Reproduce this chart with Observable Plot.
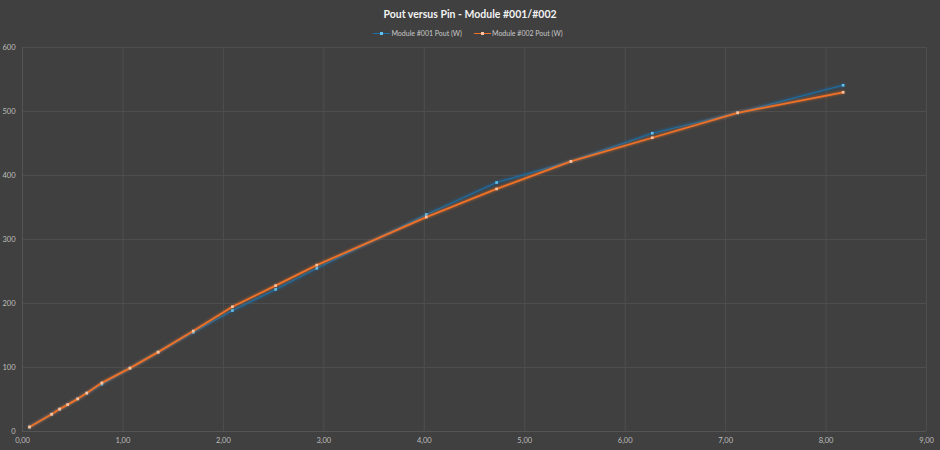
<!DOCTYPE html>
<html><head><meta charset="utf-8">
<script src="https://cdn.jsdelivr.net/npm/d3@7"></script>
<script src="https://cdn.jsdelivr.net/npm/@observablehq/plot@0.6"></script>
<style>
html,body{margin:0;padding:0;background:#404040;}
#wrap{width:940px;height:450px;background:#404040;font-family:Lato,"Noto Sans",sans-serif;overflow:hidden;}
#title{height:26px;line-height:28px;text-align:center;color:#f2f2f2;font-weight:bold;font-size:10.5px;}
#legend{height:14px;display:flex;justify-content:center;align-items:center;gap:12px;font-size:7px;color:#c8c8c8;padding-right:4px;}
.item{display:flex;align-items:center;gap:1px;}
.sw{position:relative;width:17px;height:8px;}
.sw i{position:absolute;left:0;right:0;top:3.5px;height:1.5px;}
.sw b{position:absolute;left:7px;top:2.5px;width:3px;height:3px;}
</style></head>
<body><div id="wrap">
<div id="title">Pout versus Pin - Module #001/#002</div>
<div id="legend"></div>
<div id="chart"></div>
</div>
<script>
const pin = [0.07,0.29,0.37,0.45,0.55,0.64,0.79,1.07,1.35,1.70,2.09,2.52,2.93,4.02,4.72,5.46,6.27,7.12,8.17];
const pout001 = [7,27,35,42,51,60,74,99,124,155,189,222,255,339,389,422,466,498,541];
const pout002 = [7,27,35,42,51,60,76,99,124,157,195,228,260,335,379,422,459,498,530];
const seriesNames = ["Module #001 Pout (W)","Module #002 Pout (W)"];
const seriesColors = ["#1d6fa5","#f07228"];
const markerColors = ["#5fc2f2","#f9c4a4"];
const lineWidths = [1.2,1.8];
const xTicks = [0,1,2,3,4,5,6,7,8,9];
const yTicks = [0,100,200,300,400,500,600];

const rows = [];
pin.forEach((p,i)=>{ rows.push({pin:p,pout:pout001[i],s:seriesNames[0]}); });
pin.forEach((p,i)=>{ rows.push({pin:p,pout:pout002[i],s:seriesNames[1]}); });

const leg = document.getElementById("legend");
seriesNames.forEach((n,i)=>{
  const it=document.createElement("div");it.className="item";
  it.innerHTML=`<span class="sw"><i style="background:${seriesColors[i]}"></i><b style="background:${markerColors[i]}"></b></span><span>${n}</span>`;
  leg.appendChild(it);
});

const fmt = d3.format(".2f");
const lineMarks = seriesNames.flatMap((n,i)=>{
  const d = rows.filter(r=>r.s===n);
  return [
    Plot.line(d,{x:"pin",y:"pout",stroke:seriesColors[i],strokeWidth:6,strokeOpacity:0.12}),
    Plot.line(d,{x:"pin",y:"pout",stroke:seriesColors[i],strokeWidth:3.5,strokeOpacity:0.18}),
    Plot.line(d,{x:"pin",y:"pout",stroke:seriesColors[i],strokeWidth:lineWidths[i]}),
    Plot.dot(d,{x:"pin",y:"pout",symbol:"square",r:1.5,fill:markerColors[i],stroke:"none"})
  ];
});
const chart = Plot.plot({
  width:940, height:410,
  marginTop:7, marginBottom:19, marginLeft:22, marginRight:14,
  style:{background:"#404040",color:"#bfbfbf",fontFamily:"Lato, Noto Sans, sans-serif",fontSize:"7.5px",overflow:"visible"},
  x:{domain:[0,9],ticks:xTicks,tickFormat:d=>fmt(d).replace(".",","),tickSize:0,tickPadding:6,label:null},
  y:{domain:[0,600],ticks:yTicks,tickSize:0,tickPadding:7,label:null},
  marks:[
    Plot.gridX(xTicks,{stroke:"#4e4e4e",strokeOpacity:1,strokeWidth:1}),
    Plot.gridY(yTicks,{stroke:"#4e4e4e",strokeOpacity:1,strokeWidth:1}),
    Plot.ruleX([0],{stroke:"#555555"}),
    Plot.ruleY([0],{stroke:"#555555"}),
    ...lineMarks,
    Plot.axisX({ticks:xTicks,tickSize:0,tickPadding:6,tickFormat:d=>fmt(d).replace(".",","),label:null}),
    Plot.axisY({ticks:yTicks,tickSize:0,tickPadding:7,label:null})
  ]
});
document.getElementById("chart").appendChild(chart);
</script>
</body></html>
